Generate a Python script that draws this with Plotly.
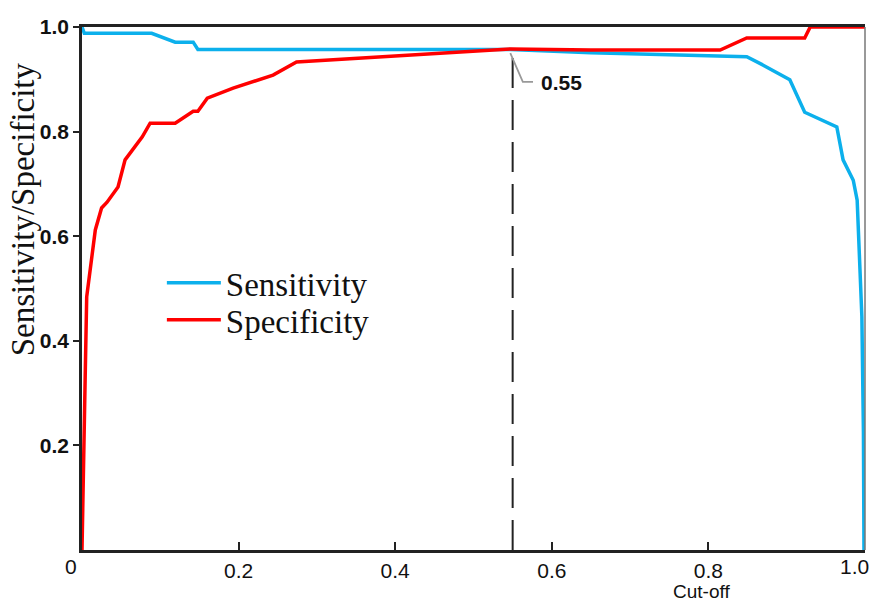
import plotly.graph_objects as go

# ---- data ----
sens_x = [0.0, 0.003, 0.089, 0.119, 0.142, 0.148, 0.30, 0.45, 0.547, 0.65, 0.75, 0.815, 0.849, 0.870,
          0.904, 0.923, 0.964, 0.972, 0.985, 0.990, 0.992, 0.996, 0.998, 0.9987]
sens_y = [1.0, 0.988, 0.988, 0.971, 0.971, 0.957, 0.957, 0.957, 0.957, 0.951, 0.947, 0.943, 0.943, 0.927,
          0.899, 0.837, 0.809, 0.746, 0.707, 0.669, 0.606, 0.446, 0.224, 0.0]

spec_x = [0.0, 0.002, 0.004, 0.006, 0.013, 0.017, 0.025, 0.032, 0.046, 0.055, 0.077, 0.087, 0.119,
          0.142, 0.148, 0.160, 0.193, 0.244, 0.274, 0.355, 0.45, 0.547, 0.65, 0.815, 0.849, 0.923,
          0.930, 1.0]
spec_y = [0.0, 0.134, 0.325, 0.484, 0.574, 0.612, 0.654, 0.665, 0.694, 0.746, 0.790, 0.816, 0.816,
          0.839, 0.839, 0.864, 0.883, 0.908, 0.933, 0.940, 0.948, 0.958, 0.956, 0.956, 0.979, 0.979,
          1.0, 1.0]

cutoff = 0.55
cutoff_y = 0.955
x_ticks = [0.2, 0.4, 0.6, 0.8]
x_ticklabels = ["0.2", "0.4", "0.6", "0.8"]
x_end_label = "1.0"
y_ticks = [0.2, 0.4, 0.6, 0.8, 1.0]
y_ticklabels = ["0.2", "0.4", "0.6", "0.8", "1.0"]

BLUE = "#0CB0EC"
RED = "#FF0000"
INK = "#111111"
TICKFONT = dict(family="Liberation Sans", size=21, color=INK)

fig = go.Figure()
fig.add_trace(go.Scatter(x=[cutoff, cutoff], y=[0, cutoff_y - 0.006], mode="lines",
                         line=dict(color="#222222", width=2, dash="30px,12px"),
                         showlegend=False, hoverinfo="skip"))
fig.add_trace(go.Scatter(x=sens_x, y=sens_y, mode="lines", name="Sensitivity",
                         line=dict(color=BLUE, width=3.5), legend="legend"))
fig.add_trace(go.Scatter(x=spec_x, y=spec_y, mode="lines", name="Specificity",
                         line=dict(color=RED, width=3.5), legend="legend2"))

# leader line for the cut-off label
fig.add_shape(type="path",
              path=(f"M {cutoff-0.003},{cutoff_y-0.005} L {cutoff+0.013},{cutoff_y-0.060} "
                    f"L {cutoff+0.026},{cutoff_y-0.060}"),
              line=dict(color="#999999", width=1.8), xref="x", yref="y")
fig.add_annotation(x=cutoff + 0.034, y=cutoff_y - 0.062, text="<b>0.55</b>", showarrow=False,
                   xanchor="left", yanchor="middle",
                   font=dict(family="Liberation Sans", size=21, color=INK))

# right border
fig.add_shape(type="line", x0=1, x1=1, y0=0, y1=1, xref="paper", yref="paper",
              line=dict(color="#777777", width=1.5))

# "0" corner label and "1.0" end label
fig.add_annotation(x=0, y=0, text="0", showarrow=False, xanchor="center", yanchor="top",
                   xshift=-11, yshift=-3, font=TICKFONT)
fig.add_annotation(x=1, y=0, xref="x", yref="y", text=x_end_label, showarrow=False,
                   xanchor="right", yanchor="top", xshift=6, yshift=-3, font=TICKFONT)
# x axis title
fig.add_annotation(x=0.791, y=0, xref="paper", yref="paper", text="Cut-off", showarrow=False,
                   xanchor="center", yanchor="middle", yshift=-41, borderpad=0,
                   font=dict(family="Liberation Sans", size=19, color=INK))
# y axis title
fig.add_annotation(x=-0.075, y=0.652, xref="paper", yref="paper", text="Sensitivity/Specificity",
                   showarrow=False, textangle=-90, xanchor="center", yanchor="middle",
                   font=dict(family="Liberation Serif", size=33, color=INK))

legend_common = dict(xanchor="left", yanchor="middle",
                     font=dict(family="Liberation Serif", size=33, color=INK),
                     bgcolor="rgba(0,0,0,0)", itemwidth=54)

fig.update_layout(
    width=870, height=601,
    margin=dict(l=82, r=5, t=27, b=51),
    paper_bgcolor="white", plot_bgcolor="white",
    showlegend=True,
    legend=dict(x=0.102, y=0.511, **legend_common),
    legend2=dict(x=0.102, y=0.440, **legend_common),
    xaxis=dict(range=[0, 1], tickvals=x_ticks + [1.0], ticktext=x_ticklabels + [""], automargin=False,
               showgrid=False, zeroline=False, showline=True, linecolor="#222222", linewidth=2.5,
               mirror=True, ticks="inside", ticklen=8, tickwidth=1.5, tickcolor="#222222",
               ticklabelstandoff=0, tickfont=TICKFONT),
    yaxis=dict(range=[0, 1], tickvals=y_ticks, ticktext=y_ticklabels, automargin=False,
               showgrid=False, zeroline=False, showline=True, linecolor="#222222", linewidth=2.5,
               ticks="outside", ticklen=6, tickwidth=1.5, tickcolor="#222222",
               tickfont=dict(family="Liberation Sans", size=21, color=INK, weight="bold")),
)

fig.write_html("out.html")
